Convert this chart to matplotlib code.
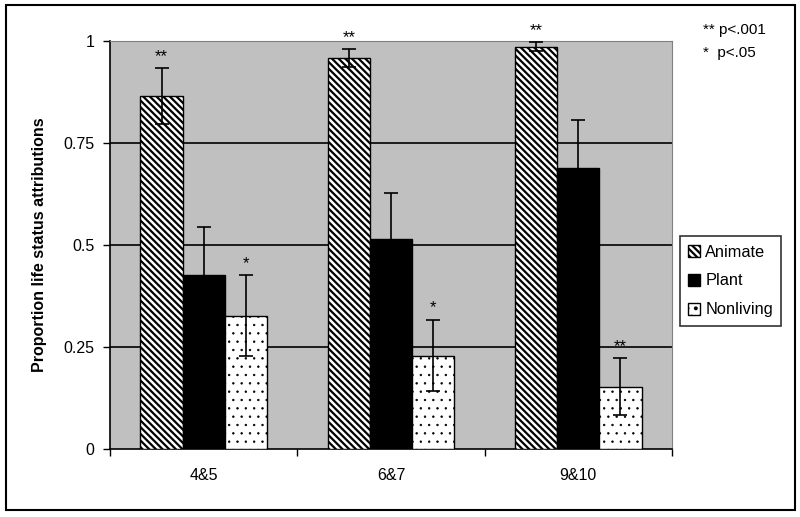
import matplotlib
matplotlib.use("Agg")
import matplotlib.pyplot as plt
from matplotlib.patches import Rectangle
import numpy as np

plt.rcParams['font.family'] = ['Liberation Sans', 'DejaVu Sans']
plt.rcParams['hatch.linewidth'] = 1.6

categories = ["4&5", "6&7", "9&10"]
series = ["Animate", "Plant", "Nonliving"]
animate = [0.865, 0.959, 0.986]
plant = [0.426, 0.514, 0.689]
nonliving = [0.327, 0.229, 0.153]
animate_err = [0.068, 0.022, 0.011]
plant_err = [0.117, 0.113, 0.117]
nonliving_err = [0.100, 0.088, 0.069]
animate_sig = ["**", "**", "**"]
nonliving_sig = ["*", "*", "**"]
yticks = [0, 0.25, 0.5, 0.75, 1]
ytick_labels = ["0", "0.25", "0.5", "0.75", "1"]

fig = plt.figure(figsize=(8, 5.17), dpi=100)
fig.patches.append(Rectangle((0.008, 0.014), 0.986, 0.976, transform=fig.transFigure,
                             fill=False, edgecolor='black', linewidth=1.5))
ax = fig.add_axes([110/800, 1-449/517, (672-110)/800, (449-41)/517])
ax.set_facecolor('#c0c0c0')

x = np.arange(len(categories))
w = 0.225
styles = [dict(facecolor='white', hatch='\\\\\\\\\\'),
          dict(facecolor='black'),
          dict(facecolor='white', hatch='..')]
hatch_lw = [1.6, 1.0, 0.5]
vals = [animate, plant, nonliving]
errs = [animate_err, plant_err, nonliving_err]
for i, (v, e, st) in enumerate(zip(vals, errs, styles)):
    bars = ax.bar(x + (i-1)*w, v, w, edgecolor='black', linewidth=1.0, label=series[i],
                  zorder=3, **st)
    for b in bars:
        try:
            b.set_hatch_linewidth(hatch_lw[i])
        except Exception:
            pass
    ax.errorbar(x + (i-1)*w, v, yerr=e, fmt='none', ecolor='black', elinewidth=1.2,
                capsize=5, capthick=1.2, zorder=4)

for i in range(len(categories)):
    ax.text(x[i]-w, animate[i]+animate_err[i]+0.01, animate_sig[i], ha='center',
            va='bottom', fontsize=12)
    ax.text(x[i]+w, nonliving[i]+nonliving_err[i]+0.01, nonliving_sig[i], ha='center',
            va='bottom', fontsize=12)

ax.set_xlim(-0.5, 2.5)
ax.set_ylim(0, 1)
ax.set_yticks(yticks)
ax.set_yticklabels(ytick_labels, fontsize=11.5)
ax.set_xticks(x)
ax.set_xticklabels(categories, fontsize=11.5)
ax.tick_params(axis='x', length=0, pad=14)
ax.set_xticks([-0.5, 0.5, 1.5, 2.5], minor=True)
ax.tick_params(axis='x', which='minor', length=5, direction='out', width=1)
ax.tick_params(axis='y', length=5, direction='out', width=1, pad=6)
for yv in [0.25, 0.5, 0.75]:
    ax.axhline(yv, color='black', linewidth=1.2, zorder=1)
ax.spines['top'].set_color('#808080')
ax.spines['right'].set_color('#808080')
ax.spines['left'].set_color('black')
ax.spines['bottom'].set_color('black')
ax.spines['left'].set_linewidth(1.2)
ax.spines['bottom'].set_linewidth(1.2)

ax.set_ylabel("Proportion life status attributions", fontsize=11.5, fontweight='bold', labelpad=12)

leg = ax.legend(loc='center left', bbox_to_anchor=((680-110)/562, (449-281)/408), fontsize=11.8,
                frameon=True, fancybox=False, edgecolor='black', borderpad=0.5, borderaxespad=0,
                handlelength=0.75, handleheight=0.75, handletextpad=0.3, labelspacing=0.85)
leg.get_frame().set_linewidth(1.2)

fig.text(703/800, 1-30/517, "** p<.001", fontsize=11, va='center')
fig.text(703/800, 1-53/517, "*  p<.05", fontsize=11, va='center')

fig.savefig("out.png", dpi=100)
